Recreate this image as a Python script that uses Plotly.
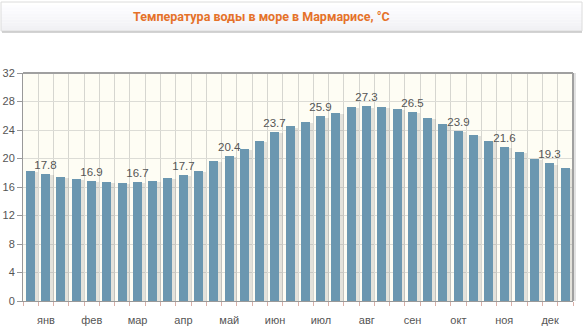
import plotly.graph_objects as go

# Sea water temperature in Marmaris by ten-day period (3 per month), °C
temps = [18.2, 17.8, 17.4, 17.1, 16.9, 16.7, 16.6, 16.7, 16.9, 17.3, 17.7, 18.2,
         19.6, 20.4, 21.4, 22.4, 23.7, 24.5, 25.1, 25.9, 26.4, 27.2, 27.3, 27.2,
         26.9, 26.5, 25.7, 24.8, 23.9, 23.3, 22.4, 21.6, 20.9, 20.0, 19.3, 18.7]
months = ["янв", "фев", "мар", "апр", "май", "июн",
          "июл", "авг", "сен", "окт", "ноя", "дек"]
y_ticks = [0, 4, 8, 12, 16, 20, 24, 28, 32]
title = "Температура воды в море в Мармарисе, °C"

W, H = 587, 335
L, R, T, B = 23, 14, 73, 34
plot_w = W - L - R
plot_h = H - T - B

x = list(range(len(temps)))
labels = [f"{v:.1f}" if i % 3 == 1 else "" for i, v in enumerate(temps)]

fig = go.Figure()
# soft shadow to the right of each bar
fig.add_trace(go.Bar(
    x=x, y=[v - 0.15 for v in temps], width=0.62, offset=-0.12,
    marker=dict(color="rgba(120,120,120,0.2)", line=dict(width=0)),
    hoverinfo="skip", showlegend=False,
))
fig.add_trace(go.Bar(
    x=x, y=temps, width=0.59, offset=-0.31,
    marker=dict(color="#6b97b0", line=dict(width=0)),
    text=labels, textposition="outside", cliponaxis=False,
    constraintext="none",
    textfont=dict(family="Arial, Liberation Sans, sans-serif", size=11.5, color="#555555"),
    showlegend=False,
))


def py(p):
    return (H - B - p) / plot_h


def px(p):
    return (p - L) / plot_w


shapes = []
# header box with a gentle vertical gradient
top, bot = 2, 31
steps = 10
for k in range(steps):
    y0 = top + (bot - top) * k / steps
    y1 = top + (bot - top) * (k + 1) / steps
    g = int(255 - 14 * k / (steps - 1))
    shapes.append(dict(type="rect", xref="paper", yref="paper",
                       x0=px(1), x1=px(582), y0=py(y1), y1=py(y0),
                       fillcolor=f"rgb({g},{g},{min(255, g + 3)})",
                       line=dict(width=0), layer="below"))
shapes.append(dict(type="rect", xref="paper", yref="paper",
                   x0=px(1), x1=px(582), y0=py(bot), y1=py(top),
                   line=dict(color="#dcdcdc", width=1), layer="above"))
shapes.append(dict(type="line", xref="paper", yref="paper",
                   x0=px(2), x1=px(582), y0=py(bot + 1), y1=py(bot + 1),
                   line=dict(color="#c4c4c4", width=1.5)))
# plot frame: heavier top and right edges
shapes.append(dict(type="line", xref="paper", yref="paper",
                   x0=0, x1=1, y0=1, y1=1, line=dict(color="#a0a0a0", width=2)))
shapes.append(dict(type="line", xref="paper", yref="paper",
                   x0=1, x1=1, y0=0, y1=1, line=dict(color="#a0a0a0", width=2)))
shapes.append(dict(type="line", xref="paper", yref="paper",
                   x0=px(W - R + 2), x1=px(W - R + 2), y0=0, y1=1,
                   line=dict(color="#e2e2e2", width=2)))

fig.update_layout(
    width=W, height=H,
    margin=dict(l=L, r=R, t=T, b=B, autoexpand=False),
    paper_bgcolor="white",
    plot_bgcolor="#fefdf4",
    barmode="overlay",
    shapes=shapes,
    annotations=[dict(
        text=f"<b>{title}</b>", xref="paper", yref="paper",
        x=px(261), y=py(17), xanchor="center", yanchor="middle",
        showarrow=False,
        font=dict(family="Roboto, Arial, sans-serif", size=12.5, color="#e5722a"),
    )],
    xaxis=dict(
        range=[-0.5, len(temps) - 0.5],
        tickmode="array",
        tickvals=[3 * i + 1 for i in range(len(months))],
        ticktext=months,
        showgrid=False, ticks="outside", ticklen=9, tickcolor="rgba(0,0,0,0)",
        tickfont=dict(family="Arial, Liberation Sans, sans-serif", size=11, color="#555555"),
        showline=True, linecolor="#999999", linewidth=1,
        minor=dict(tickmode="linear", tick0=-0.5, dtick=1,
                   showgrid=True, gridcolor="#d6d6d0", gridwidth=1,
                   ticks="outside", ticklen=4, tickcolor="#d9b0a8"),
        zeroline=False, automargin=False,
        fixedrange=True,
    ),
    yaxis=dict(
        range=[0, 32],
        tickmode="array", tickvals=y_ticks,
        showgrid=True, gridcolor="#dcdcd6", gridwidth=1,
        ticks="outside", ticklen=5, tickcolor="#999999",
        tickfont=dict(family="Arial, Liberation Sans, sans-serif", size=11, color="#555555"),
        showline=True, linecolor="#999999", linewidth=1,
        zeroline=False, automargin=False,
        fixedrange=True,
    ),
    bargap=0,
)

fig.write_html("out.html", config={"displayModeBar": False})
